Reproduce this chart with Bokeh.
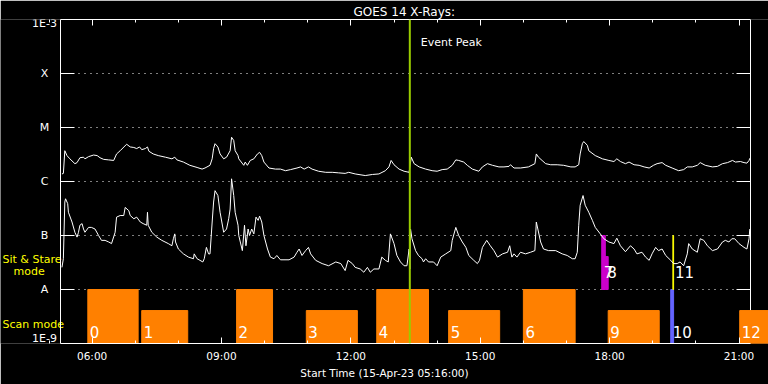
import numpy as np
from bokeh.plotting import figure
from bokeh.models import (Range1d, FixedTicker, LinearAxis, Span, Label, Title,
                          ColumnDataSource)
from bokeh.embed import file_html
from bokeh.resources import INLINE
from bokeh.core.properties import value

# ---------------- data ----------------
TITLE = "GOES 14 X-Rays:"
X_LABEL = "Start Time (15-Apr-23 05:16:00)"
start_time = "05:16"
window_hours = 16
event_peak_time = "13:22"

flux_levels = [-9, -8, -7, -6, -5, -4, -3]          # log10 W/m^2
flux_labels = ["1E-9", "A", "B", "C", "M", "X", "1E-3"]
class_levels = [-8, -7, -6, -5, -4]
hour_ticks = [6, 9, 12, 15, 18, 21]
hour_tick_labels = ["06:00", "09:00", "12:00", "15:00", "18:00", "21:00"]
minor_hours = list(range(5, 23))
mode_names = ["Sit & Stare", "mode", "Scan mode"]

# GOES 1-8 A channel (log10 flux)
long_time = ["05:18","05:20","05:22","05:25","05:29","05:36","05:39","05:43","05:48","05:50",
             "05:55","06:02","06:07","06:11","06:16","06:23","06:30","06:34","06:39","06:48",
             "06:53","06:58","07:02","07:06","07:09","07:14","07:17","07:19","07:25","07:32",
             "07:42","07:51","07:55","07:58","08:07","08:16","08:26","08:33","08:37","08:44",
             "08:47","08:49","08:51","08:55","08:58","09:03","09:07","09:12","09:14","09:17",
             "09:19","09:23","09:24","09:31","09:33","09:36","09:40","09:45","09:50","09:53",
             "09:56","09:59","10:06","10:15","10:22","10:29","10:36","10:45","10:50","10:55",
             "11:01","11:06","11:15","11:25","11:34","11:43","11:52","11:57","12:06","12:20",
             "12:30","12:39","12:48","12:53","12:56","13:00","13:07","13:14","13:21","13:24",
             "13:28","13:35","13:44","13:53","14:00","14:07","14:14","14:21","14:26","14:30",
             "14:37","14:42","14:49","14:58","15:03","15:10","15:17","15:26","15:33","15:40",
             "15:42","15:47","15:56","16:07","16:16","16:18","16:21","16:26","16:31","16:38",
             "16:47","16:56","17:06","17:12","17:17","17:19","17:22","17:24","17:29","17:31",
             "17:40","17:50","17:59","18:06","18:10","18:15","18:22","18:27","18:34","18:41",
             "18:48","18:55","19:01","19:06","19:13","19:18","19:27","19:36","19:43","19:48",
             "19:55","20:02","20:06","20:13","20:23","20:30","20:37","20:44","20:51","20:55",
             "21:02","21:07","21:11","21:14","21:15"]
long_log_flux = [-5.86,-5.85,-5.43,-5.52,-5.58,-5.67,-5.65,-5.56,-5.55,-5.58,
                 -5.54,-5.51,-5.52,-5.56,-5.59,-5.60,-5.61,-5.49,-5.43,-5.31,
                 -5.36,-5.37,-5.39,-5.36,-5.41,-5.39,-5.36,-5.44,-5.49,-5.52,
                 -5.55,-5.58,-5.55,-5.60,-5.64,-5.70,-5.74,-5.77,-5.75,-5.70,
                 -5.58,-5.39,-5.30,-5.36,-5.49,-5.58,-5.55,-5.43,-5.18,-5.24,
                 -5.43,-5.52,-5.58,-5.70,-5.64,-5.70,-5.61,-5.58,-5.49,-5.46,
                 -5.52,-5.64,-5.75,-5.77,-5.77,-5.80,-5.78,-5.75,-5.73,-5.77,
                 -5.73,-5.77,-5.81,-5.83,-5.83,-5.84,-5.85,-5.83,-5.86,-5.89,
                 -5.87,-5.86,-5.80,-5.73,-5.61,-5.69,-5.77,-5.81,-5.83,-5.55,
                 -5.67,-5.73,-5.77,-5.80,-5.81,-5.78,-5.77,-5.70,-5.60,-5.61,
                 -5.64,-5.70,-5.77,-5.81,-5.73,-5.67,-5.70,-5.73,-5.73,-5.72,
                 -5.69,-5.75,-5.75,-5.73,-5.67,-5.49,-5.55,-5.61,-5.67,-5.69,
                 -5.69,-5.70,-5.73,-5.73,-5.69,-5.49,-5.30,-5.26,-5.33,-5.43,
                 -5.52,-5.58,-5.61,-5.63,-5.58,-5.63,-5.67,-5.64,-5.69,-5.70,
                 -5.73,-5.75,-5.70,-5.67,-5.65,-5.70,-5.75,-5.80,-5.78,-5.73,
                 -5.73,-5.70,-5.65,-5.70,-5.73,-5.72,-5.67,-5.65,-5.61,-5.64,
                 -5.63,-5.65,-5.66,-5.61,-5.57]

# GOES 0.5-4 A channel (log10 flux)
short_time = ["05:18","05:20","05:22","05:23","05:26","05:27","05:32","05:36","05:39","05:41",
              "05:43","05:46","05:48","05:50","05:55","05:59","06:04","06:09","06:13","06:18",
              "06:23","06:27","06:32","06:34","06:39","06:44","06:46","06:51","06:53","06:58",
              "07:02","07:07","07:11","07:16","07:17","07:18","07:23","07:30","07:37","07:46",
              "07:51","07:53","07:55","07:56","08:00","08:07","08:14","08:21","08:22","08:26",
              "08:30","08:34","08:36","08:39","08:42","08:44","08:47","08:49","08:51","08:55",
              "08:58","09:03","09:07","09:10","09:12","09:14","09:17","09:19","09:23","09:24",
              "09:29","09:32","09:34","09:37","09:39","09:42","09:45","09:48","09:51","09:53",
              "09:56","09:59","10:04","10:08","10:13","10:17","10:22","10:34","10:41","10:45",
              "10:48","10:52","10:57","11:01","11:04","11:11","11:20","11:29","11:39","11:46",
              "11:52","11:56","12:02","12:06","12:13","12:18","12:23","12:27","12:32","12:39",
              "12:43","12:48","12:52","12:55","13:00","13:04","13:09","13:14","13:18","13:21",
              "13:22","13:23","13:25","13:30","13:34","13:39","13:41","13:44","13:48","13:55",
              "14:00","14:05","14:12","14:19","14:21","14:26","14:30","14:35","14:40","14:44",
              "14:51","14:56","14:59","15:03","15:09","15:14","15:19","15:24","15:31","15:38",
              "15:41","15:44","15:47","15:51","15:56","16:03","16:10","16:16","16:18","16:24",
              "16:28","16:35","16:45","16:54","17:01","17:08","17:12","17:15","17:17","17:19",
              "17:23","17:26","17:31","17:36","17:40","17:47","17:52","17:59","18:06","18:10",
              "18:15","18:22","18:29","18:34","18:38","18:45","18:50","18:55","18:59","19:04",
              "19:08","19:13","19:18","19:25","19:29","19:34","19:38","19:43","19:48","19:50",
              "19:55","20:02","20:06","20:11","20:16","20:23","20:30","20:37","20:41","20:46",
              "20:50","20:54","21:00","21:07","21:11","21:14","21:15"]
short_log_flux = [-7.59,-7.43,-6.38,-6.32,-6.41,-6.57,-6.75,-6.94,-7.03,-6.94,
                  -6.81,-6.78,-6.88,-6.94,-6.85,-6.85,-6.88,-7.00,-7.09,-7.09,
                  -7.12,-7.15,-6.94,-6.66,-6.63,-6.63,-6.48,-6.54,-6.63,-6.69,
                  -6.66,-6.75,-6.78,-6.81,-6.57,-6.81,-6.94,-7.03,-7.09,-7.15,
                  -7.19,-7.06,-6.97,-7.12,-7.25,-7.34,-7.40,-7.43,-7.34,-7.43,
                  -7.46,-7.49,-7.43,-7.22,-7.34,-7.34,-6.75,-6.38,-6.17,-6.26,
                  -6.57,-6.94,-6.88,-6.69,-6.51,-5.95,-6.26,-6.57,-6.81,-7.00,
                  -7.28,-6.81,-7.19,-6.88,-7.00,-6.88,-6.97,-6.66,-6.72,-6.64,
                  -6.75,-7.00,-7.25,-7.40,-7.43,-7.37,-7.45,-7.45,-7.40,-7.31,
                  -7.25,-7.37,-7.28,-7.22,-7.34,-7.46,-7.52,-7.56,-7.49,-7.52,
                  -7.65,-7.46,-7.52,-7.59,-7.62,-7.68,-7.59,-7.68,-7.62,-7.62,
                  -7.40,-7.46,-7.49,-6.97,-7.15,-7.37,-7.49,-7.56,-7.56,-7.25,
                  -7.62,-6.88,-7.06,-7.28,-7.37,-7.43,-7.49,-7.43,-7.49,-7.49,
                  -7.56,-7.40,-7.34,-7.28,-7.09,-6.85,-7.00,-7.12,-7.22,-7.37,
                  -7.46,-7.52,-7.46,-7.22,-7.09,-7.19,-7.28,-7.40,-7.34,-7.31,
                  -7.19,-7.40,-7.34,-7.40,-7.31,-7.34,-7.31,-7.28,-6.75,-7.12,
                  -7.25,-7.28,-7.28,-7.34,-7.37,-7.43,-7.43,-7.31,-6.81,-6.44,
                  -6.26,-6.44,-6.57,-6.72,-6.85,-6.97,-7.06,-7.12,-7.15,-7.05,
                  -7.19,-7.30,-7.19,-7.25,-7.34,-7.31,-7.40,-7.46,-7.34,-7.22,
                  -7.28,-7.25,-7.37,-7.46,-7.52,-7.52,-7.49,-7.56,-7.34,-7.15,
                  -7.25,-7.31,-7.06,-7.09,-7.19,-7.28,-7.25,-7.12,-7.09,-7.12,
                  -7.06,-7.06,-7.15,-7.22,-7.25,-7.06,-6.88]

# observation rasters
raster_id = ["0", "1", "2", "3", "4", "5", "6", "7", "8", "9", "10", "11", "12"]
raster_start = ["05:54", "07:09", "09:21", "10:58", "12:36", "14:16", "16:00",
                "17:49", "17:54", "17:58", "19:25", "19:28", "21:01"]
raster_end = ["07:04", "08:13", "10:11", "12:09", "13:48", "15:27", "17:12",
              "17:54", "17:58", "19:09", "19:29", "19:29", "22:10"]
raster_mode = ["scan", "scan", "scan", "scan", "scan", "scan", "scan",
               "sit_stare", "sit_stare", "scan", "scan", "sit_stare", "scan"]
raster_program = ["P1", "P1", "P1", "P1", "P1", "P1", "P1",
                  "P2", "P2", "P1", "P3", "P4", "P1"]
raster_top_log = [-8.0, -8.39, -8.0, -8.39, -8.0, -8.39, -8.0,
                  -7.0, -7.39, -8.39, -8.0, -7.0, -8.39]

assert len(long_time) == len(long_log_flux)
assert len(short_time) == len(short_log_flux)

# ---------------- helpers / styles ----------------
def hours(t):
    hh, mm = t.split(":")
    return int(hh) + int(mm) / 60.0

FONT = "DejaVu Sans"
program_colors = {"P1": "#FF8000", "P2": "#CC00CC", "P3": "#6464FF", "P4": "#FFFF00"}
mode_bottom = {"scan": -9.0, "sit_stare": -8.0}
mode_label_offset = {"scan": -12, "sit_stare": -18}

W, H = 768, 384
LEFT, TOP, BOTTOM = 60, 19, 41            # position of the observation box in the page
PLOT_PX = 690                             # pixel width of the observation window
t0 = hours(start_time)
t_end = t0 + window_hours
px_per_h = PLOT_PX / window_hours
px_per_dec = (H - TOP - BOTTOM) / (flux_levels[-1] - flux_levels[0])
x_min = t0 - LEFT / px_per_h
x_max = t0 + (W - LEFT) / px_per_h

p = figure(width=W, height=H, x_range=Range1d(x_min, x_max),
           y_range=Range1d(flux_levels[0], flux_levels[-1]),
           output_backend="svg", toolbar_location=None, y_axis_location=None,
           min_border_left=0, min_border_right=0, min_border_top=TOP,
           min_border_bottom=BOTTOM, background_fill_color="black",
           border_fill_color="black", outline_line_color=None)
p.grid.visible = False

# title
p.title = Title(text=TITLE, align="left", offset=353,
                text_color="white", text_font=FONT, text_font_size="12px",
                text_font_style="normal", standoff=2)

# bottom axis
xa = p.xaxis[0]
xa.ticker = FixedTicker(ticks=hour_ticks, minor_ticks=minor_hours)
xa.bounds = (t0, t_end)
xa.major_label_overrides = dict(zip(hour_ticks, hour_tick_labels))
xa.axis_line_color = "white"
xa.major_tick_line_color = "white"
xa.minor_tick_line_color = "white"
xa.major_tick_in = 6
xa.major_tick_out = 0
xa.minor_tick_in = 3
xa.minor_tick_out = 0
xa.major_label_standoff = 6
xa.major_label_text_color = "white"
xa.major_label_text_font = FONT
xa.major_label_text_font_size = "10.5px"
xa.axis_label = X_LABEL
xa.axis_label_standoff = 2
xa.axis_label_text_color = "white"
xa.axis_label_text_font = FONT
xa.axis_label_text_font_style = "normal"
xa.axis_label_text_font_size = "10.5px"

# top axis (ticks only, no labels drawn)
ta = LinearAxis(ticker=FixedTicker(ticks=hour_ticks, minor_ticks=minor_hours),
                bounds=(t0, t_end), axis_line_color="white",
                major_tick_line_color="white", minor_tick_line_color="white",
                major_tick_in=6, major_tick_out=0, minor_tick_in=3, minor_tick_out=0,
                major_label_text_color=None, major_label_text_font_size="1px",
                major_label_standoff=0)
p.add_layout(ta, "above")

# flux axis on the left edge of the observation box
n = len(flux_levels)
tick_len = 14 / px_per_h
p.add_layout(Span(location=t0, dimension="height", line_color="white", line_width=1))
p.segment(x0=[t0] * n, x1=[t0 + tick_len] * n, y0=flux_levels, y1=flux_levels,
          line_color="white", line_width=1)
lab_src = ColumnDataSource(dict(
    x=[t0] * n, y=flux_levels, text=flux_labels,
    yoff=[-5 if v == flux_levels[0] else (4 if v == flux_levels[-1] else 0)
          for v in flux_levels]))
p.text(x="x", y="y", text="text", source=lab_src, x_offset=-16, y_offset="yoff",
       text_align="center", text_baseline="middle", text_color="white",
       text_font=value(FONT), text_font_size="11px")

# mode labels in the left margin
mode_y = [flux_levels[0] + (H - BOTTOM - py) / px_per_dec for py in (258.5, 271, 324)]
p.text(x=[t0] * 3, y=mode_y, text=mode_names, x_offset=[-58, -47, -58],
       text_align="left", text_baseline="middle", text_color="yellow",
       text_font=value(FONT), text_font_size="11px")

# dotted class grid lines and right frame
m = len(class_levels)
p.segment(x0=[t0] * m, x1=[t_end] * m, y0=class_levels, y1=class_levels,
          line_color="white", line_dash="1 5", line_width=1)
p.segment(x0=[t_end - tick_len] * m, x1=[t_end] * m, y0=class_levels, y1=class_levels,
          line_color="white", line_width=1)
p.add_layout(Span(location=t_end, dimension="height", line_color="white",
                  line_width=1, level="underlay"))

# rasters
r_left = [hours(s) for s in raster_start]
r_right = [hours(e) for e in raster_end]
r_bottom = [mode_bottom[md] for md in raster_mode]
r_color = [program_colors[g] for g in raster_program]
r_yoff = [mode_label_offset[md] for md in raster_mode]
rsrc = ColumnDataSource(dict(left=r_left, right=r_right, bottom=r_bottom,
                             top=raster_top_log, color=r_color, label=raster_id,
                             yoff=r_yoff))
p.quad(left="left", right="right", bottom="bottom", top="top", source=rsrc,
       fill_color="color", line_color="color", line_width=1)
p.text(x="left", y="bottom", text="label", source=rsrc, x_offset=2, y_offset="yoff",
       text_color="white", text_font=value(FONT), text_font_size="15px",
       text_baseline="middle", text_align="left")

# GOES curves
p.line([hours(t) for t in long_time], long_log_flux, line_color="white", line_width=1)
p.line([hours(t) for t in short_time], short_log_flux, line_color="white", line_width=1)

# event peak
t_peak = hours(event_peak_time)
p.add_layout(Span(location=t_peak, dimension="height", line_color="#99CC00", line_width=2))
p.add_layout(Label(x=t_peak, y=-3.435, x_offset=11, text="Event Peak", text_color="white",
                   text_font=FONT, text_font_size="11px", text_baseline="middle"))

open("out.html", "w").write(file_html(p, INLINE))
